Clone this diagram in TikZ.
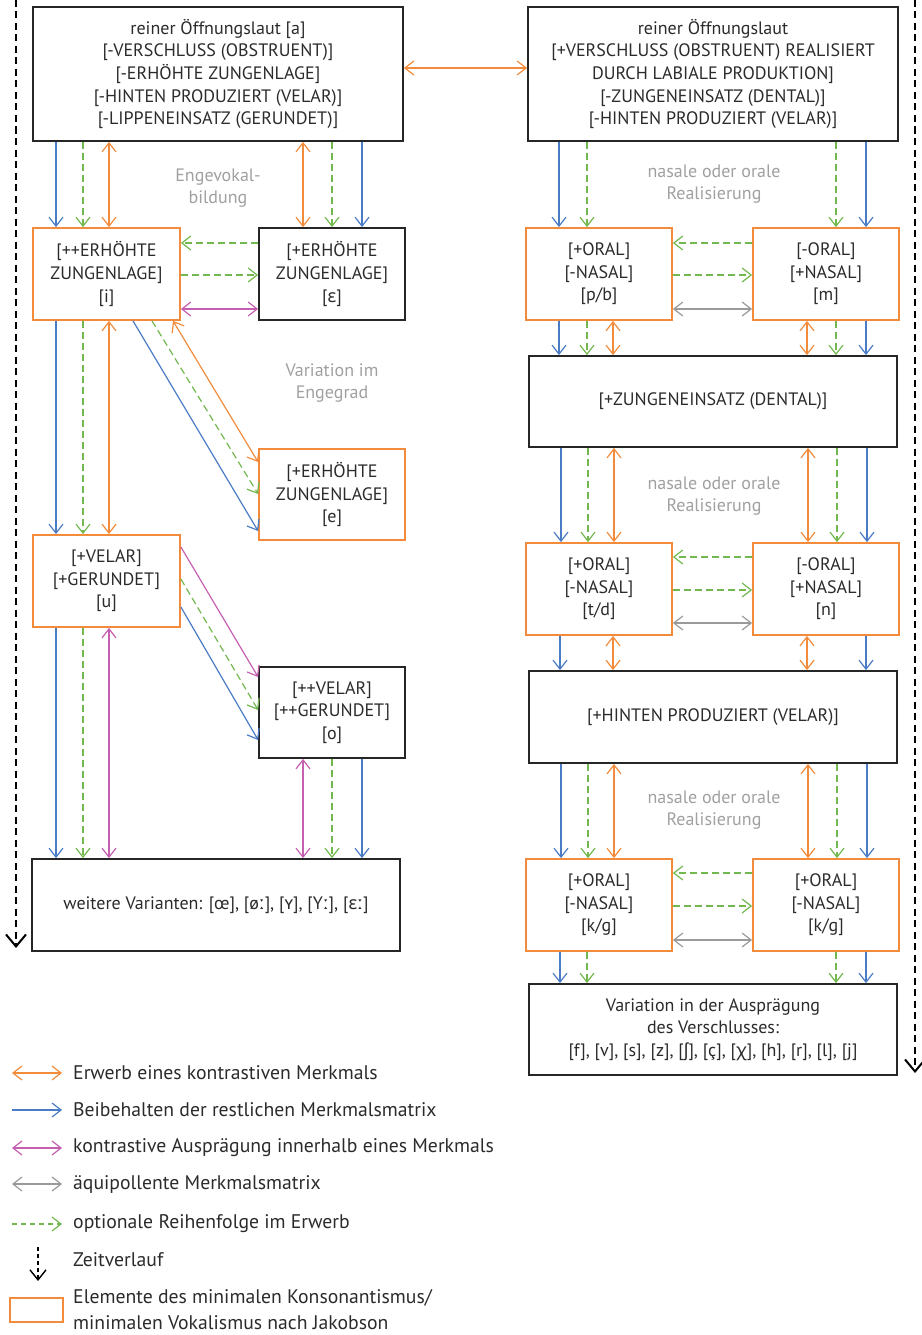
\documentclass[tikz,border=0pt]{standalone}
\usepackage{fontspec}
\setmainfont{PT Sans}
\newfontfamily\ipafont{Noto Sans}
\newcommand{\ipa}[1]{{\ipafont #1}}
\usetikzlibrary{arrows.meta}
\definecolor{orng}{HTML}{F28C3C}
\definecolor{blu}{HTML}{4A7CC6}
\definecolor{grn}{HTML}{72B84E}
\definecolor{mag}{HTML}{C560B0}
\definecolor{gry}{HTML}{9A9A9A}
\definecolor{txt}{HTML}{2B2B2B}
\definecolor{note}{HTML}{A0A0A0}
\begin{document}
\begin{tikzpicture}[x=1pt,y=-1pt,
  barb/.tip={Straight Barb[length=9pt,width=14pt,line width=1.2pt]},
  boxbase/.style={draw, line width=1.8pt, inner sep=0pt, align=center,
    text=txt, font=\fontsize{18}{22.6}\selectfont},
  bbox/.style={boxbase, draw=black!85},
  obox/.style={boxbase, draw=orng},
  small/.style={minimum width=146pt, minimum height=92pt},
  wide/.style={minimum width=368pt, minimum height=92pt},
  acq/.style={draw=orng, line width=1.2pt, barb-barb},
  keep/.style={draw=blu, line width=1.2pt, -barb},
  contr/.style={draw=mag, line width=1.2pt, barb-barb},
  controne/.style={draw=mag, line width=1.2pt, -barb},
  equi/.style={draw=gry, line width=1.2pt, barb-barb},
  opt/.style={draw=grn, line width=1.2pt, dash pattern=on 7pt off 4pt, -barb},
  timeline/.style={draw=black, line width=2.4pt, dash pattern=on 7pt off 4.5pt,
    -{Straight Barb[length=12pt,width=20pt,line width=2pt]}},
  annot/.style={align=center, text=note, inner sep=0pt,
    font=\fontsize{18}{22}\selectfont},
  legtext/.style={anchor=west, align=left, text=txt, inner sep=0pt,
    font=\fontsize{19.7}{26}\selectfont}
]
\useasboundingbox (0,0) rectangle (921,1335);

% ---------- left column: vowels ----------
\node[bbox, minimum width=370pt, minimum height=134pt] (A) at (218,74)
  {reiner Öffnungslaut [a]\\{}[-VERSCHLUSS (OBSTRUENT)]\\{}[-ERHÖHTE ZUNGENLAGE]\\{}[-HINTEN PRODUZIERT (VELAR)]\\{}[-LIPPENEINSATZ (GERUNDET)]};
\node[obox, small, minimum width=147pt] (I) at (106.5,274) {[++ERHÖHTE\\ZUNGENLAGE]\\{}[i]};
\node[bbox, small] (E) at (332,274) {[+ERHÖHTE\\ZUNGENLAGE]\\{}[\ipa{ɛ}]};
\node[obox, small, minimum height=91pt] (e) at (332,494.5) {[+ERHÖHTE\\ZUNGENLAGE]\\{}[e]};
\node[obox, small, minimum width=147pt] (u) at (106.5,581) {[+VELAR]\\{}[+GERUNDET]\\{}[u]};
\node[bbox, small, minimum height=91pt] (o) at (332,712.5) {[++VELAR]\\{}[++GERUNDET]\\{}[o]};
\node[bbox, wide] (W) at (216,905)
  {weitere Varianten: [œ], [ø\ipa{ː}], [\ipa{ʏ}], [Y\ipa{ː}], [\ipa{ɛː}]};

\node[annot] (nEnge) at (218,188) {Engevokal-\\bildung};
\node[annot] (nGrad) at (332,383) {Variation im\\Engegrad};

% A -> i / A -> epsilon
\draw[keep] (A.south -| 56,0) -- (I.north -| 56,0);
\draw[opt]  (A.south -| 83,0) -- (I.north -| 83,0);
\draw[acq]  (A.south -| 109,0) -- (I.north -| 109,0);
\draw[acq]  (A.south -| 303,0) -- (E.north -| 303,0);
\draw[opt]  (A.south -| 332,0) -- (E.north -| 332,0);
\draw[keep] (A.south -| 362,0) -- (E.north -| 362,0);
% i <-> epsilon
\draw[opt]   (E.west |- 0,243) -- (I.east |- 0,243);
\draw[opt]   (I.east |- 0,275) -- (E.west |- 0,275);
\draw[contr] (I.east |- 0,309) -- (E.west |- 0,309);
% i -> e
\draw[keep] (I.south -| 133,0) -- (e.west |- 0,531);
\draw[opt]  (I.south -| 152,0) -- (e.west |- 0,494);
\draw[acq]  (I.south -| 173,0) -- (e.west |- 0,462);
% i -> u
\draw[keep] (I.south -| 56,0) -- (u.north -| 56,0);
\draw[opt]  (I.south -| 83,0) -- (u.north -| 83,0);
\draw[acq]  (I.south -| 109,0) -- (u.north -| 109,0);
% u -> o
\draw[controne] (u.east |- 0,547) -- (o.west |- 0,677);
\draw[opt]      (u.east |- 0,579) -- (o.west |- 0,710);
\draw[keep]     (u.east |- 0,607) -- (o.west |- 0,740);
% u -> further variants, o -> further variants
\draw[keep]  (u.south -| 56,0) -- (W.north -| 56,0);
\draw[opt]   (u.south -| 83,0) -- (W.north -| 83,0);
\draw[contr] (u.south -| 109,0) -- (W.north -| 109,0);
\draw[contr] (o.south -| 303,0) -- (W.north -| 303,0);
\draw[opt]   (o.south -| 332,0) -- (W.north -| 332,0);
\draw[keep]  (o.south -| 362,0) -- (W.north -| 362,0);

% ---------- right column: consonants ----------
\node[bbox, minimum width=370pt, minimum height=134pt] (B) at (713,74)
  {reiner Öffnungslaut\\{}[+VERSCHLUSS (OBSTRUENT) REALISIERT\\DURCH LABIALE PRODUKTION]\\{}[-ZUNGENEINSATZ (DENTAL)]\\{}[-HINTEN PRODUZIERT (VELAR)]};
\node[obox, small] (P) at (599,274) {[+ORAL]\\{}[-NASAL]\\{}[p/b]};
\node[obox, small] (M) at (826,274) {[-ORAL]\\{}[+NASAL]\\{}[m]};
\node[bbox, wide, minimum height=91pt] (Z) at (713,401.5) {[+ZUNGENEINSATZ (DENTAL)]};
\node[obox, small] (T) at (599,589) {[+ORAL]\\{}[-NASAL]\\{}[t/d]};
\node[obox, small] (N) at (826,589) {[-ORAL]\\{}[+NASAL]\\{}[n]};
\node[bbox, wide] (H) at (713,717) {[+HINTEN PRODUZIERT (VELAR)]};
\node[obox, small] (K1) at (599,905) {[+ORAL]\\{}[-NASAL]\\{}[k/g]};
\node[obox, small] (K2) at (826,905) {[+ORAL]\\{}[-NASAL]\\{}[k/g]};
\node[bbox, wide, minimum height=91pt] (V) at (713,1029.5)
  {Variation in der Ausprägung\\des Verschlusses:\\{}[f], [v], [s], [z], [\ipa{ʃ}], [ç], [\ipa{χ}], [h], [r], [l], [j]};

\node[annot] (nReal1) at (714,184) {nasale oder orale\\Realisierung};
\node[annot] (nReal2) at (714,496) {nasale oder orale\\Realisierung};
\node[annot] (nReal3) at (714,810) {nasale oder orale\\Realisierung};

% vowel <-> consonant start
\draw[acq] (A.east |- 0,68) -- (B.west |- 0,68);

% B -> p/b, m
\draw[keep] (B.south -| 559,0) -- (P.north -| 559,0);
\draw[opt]  (B.south -| 587,0) -- (P.north -| 587,0);
\draw[opt]  (B.south -| 836,0) -- (M.north -| 836,0);
\draw[keep] (B.south -| 866,0) -- (M.north -| 866,0);
\draw[opt]  (M.west |- 0,243) -- (P.east |- 0,243);
\draw[opt]  (P.east |- 0,275) -- (M.west |- 0,275);
\draw[equi] (P.east |- 0,309) -- (M.west |- 0,309);
% p/b, m -> dental
\draw[keep] (P.south -| 559,0) -- (Z.north -| 559,0);
\draw[opt]  (P.south -| 587,0) -- (Z.north -| 587,0);
\draw[acq]  (P.south -| 613,0) -- (Z.north -| 613,0);
\draw[acq]  (M.south -| 807,0) -- (Z.north -| 807,0);
\draw[opt]  (M.south -| 836,0) -- (Z.north -| 836,0);
\draw[keep] (M.south -| 866,0) -- (Z.north -| 866,0);
% dental -> t/d, n
\draw[keep] (Z.south -| 561,0) -- (T.north -| 561,0);
\draw[opt]  (Z.south -| 588,0) -- (T.north -| 588,0);
\draw[acq]  (Z.south -| 614,0) -- (T.north -| 614,0);
\draw[acq]  (Z.south -| 808,0) -- (N.north -| 808,0);
\draw[opt]  (Z.south -| 837,0) -- (N.north -| 837,0);
\draw[keep] (Z.south -| 867,0) -- (N.north -| 867,0);
\draw[opt]  (N.west |- 0,557) -- (T.east |- 0,557);
\draw[opt]  (T.east |- 0,590) -- (N.west |- 0,590);
\draw[equi] (T.east |- 0,623) -- (N.west |- 0,623);
% t/d, n -> velar
\draw[keep] (T.south -| 560,0) -- (H.north -| 560,0);
\draw[acq]  (T.south -| 613,0) -- (H.north -| 613,0);
\draw[acq]  (N.south -| 807,0) -- (H.north -| 807,0);
\draw[keep] (N.south -| 866,0) -- (H.north -| 866,0);
% velar -> k/g
\draw[keep] (H.south -| 561,0) -- (K1.north -| 561,0);
\draw[opt]  (H.south -| 588,0) -- (K1.north -| 588,0);
\draw[acq]  (H.south -| 614,0) -- (K1.north -| 614,0);
\draw[acq]  (H.south -| 808,0) -- (K2.north -| 808,0);
\draw[opt]  (H.south -| 837,0) -- (K2.north -| 837,0);
\draw[keep] (H.south -| 867,0) -- (K2.north -| 867,0);
\draw[opt]  (K2.west |- 0,873) -- (K1.east |- 0,873);
\draw[opt]  (K1.east |- 0,906) -- (K2.west |- 0,906);
\draw[equi] (K1.east |- 0,940) -- (K2.west |- 0,940);
% k/g -> variation of closure
\draw[keep] (K1.south -| 560,0) -- (V.north -| 560,0);
\draw[opt]  (K1.south -| 587,0) -- (V.north -| 587,0);
\draw[opt]  (K2.south -| 836,0) -- (V.north -| 836,0);
\draw[keep] (K2.south -| 866,0) -- (V.north -| 866,0);

% ---------- time axes ----------
\coordinate (tL0) at (16,0);
\coordinate (tL1) at (16,948);
\coordinate (tR0) at (915,0);
\coordinate (tR1) at (915,1073);
\draw[timeline] (tL0) -- (tL1);
\draw[timeline] (tR0) -- (tR1);

% ---------- legend ----------
\coordinate (l1a) at (12,1073); \coordinate (l1b) at (62,1073);
\coordinate (l2a) at (12,1110); \coordinate (l2b) at (62,1110);
\coordinate (l3a) at (12,1148); \coordinate (l3b) at (62,1148);
\coordinate (l4a) at (12,1184); \coordinate (l4b) at (62,1184);
\coordinate (l5a) at (12,1224); \coordinate (l5b) at (62,1224);
\coordinate (l6a) at (38,1247); \coordinate (l6b) at (38,1281);
\draw[acq]  (l1a) -- (l1b);
\draw[keep] (l2a) -- (l2b);
\draw[contr] (l3a) -- (l3b);
\draw[equi] (l4a) -- (l4b);
\draw[opt, dash pattern=on 5pt off 4pt] (l5a) -- (l5b);
\draw[black, line width=1.4pt, dash pattern=on 4pt off 3pt,
  -{Straight Barb[length=10pt,width=16pt,line width=1.4pt]}] (l6a) -- (l6b);
\node[draw=orng, line width=1.8pt, minimum width=53pt, minimum height=24pt,
  inner sep=0pt] (l7) at (36.5,1310) {};

\node[legtext] (t1) at (73,1073) {Erwerb eines kontrastiven Merkmals};
\node[legtext] (t2) at (73,1110) {Beibehalten der restlichen Merkmalsmatrix};
\node[legtext] (t3) at (73,1148) {kontrastive Ausprägung innerhalb eines Merkmals};
\node[legtext] (t4) at (73,1184) {äquipollente Merkmalsmatrix};
\node[legtext] (t5) at (73,1224) {optionale Reihenfolge im Erwerb};
\node[legtext] (t6) at (73,1260) {Zeitverlauf};
\node[legtext] (t7) at (73,1310) {Elemente des minimalen Konsonantismus/\\minimalen Vokalismus nach Jakobson};
\end{tikzpicture}
\end{document}
